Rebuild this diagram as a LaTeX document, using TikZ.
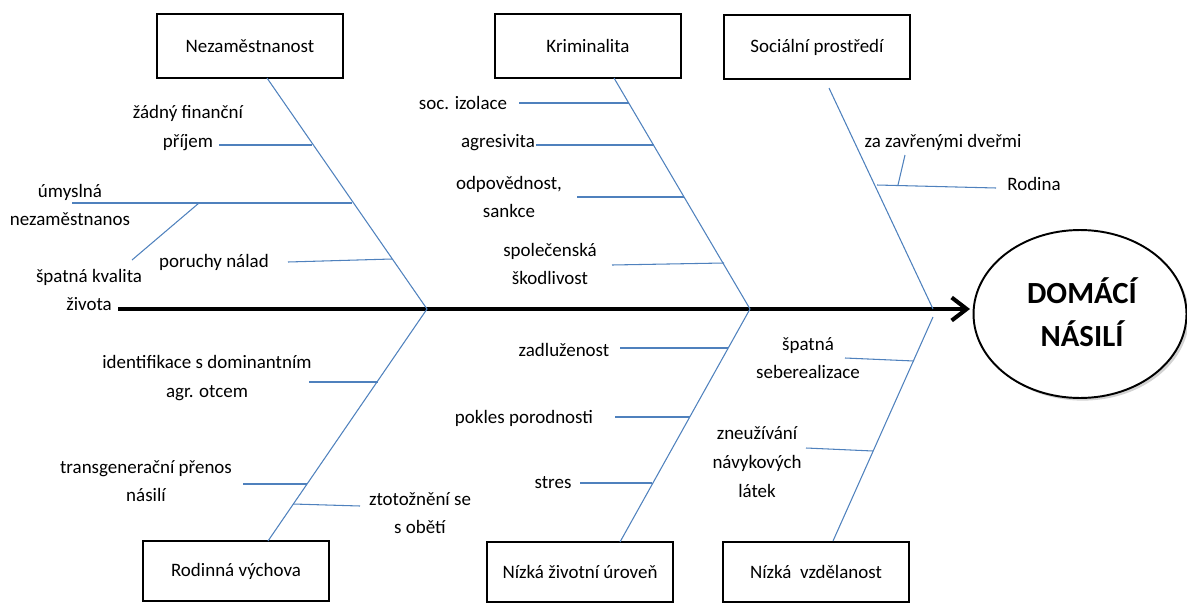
\documentclass[tikz,border=0pt]{standalone}
\usepackage{fontspec}
\setmainfont{Carlito}
\usetikzlibrary{arrows.meta,shapes.geometric,shadows}

\definecolor{bonecol}{RGB}{79,129,189}

\tikzset{%
   cause box/.style={
    draw=black,
    line width=1.3pt,
    fill=white,
    minimum width=3.72cm,
    minimum height=1.28cm,
    font=\fontsize{10.8}{13}\selectfont
  },
   factor/.style={
    align=center,
    inner sep=0pt,
    font=\fontsize{10.8}{16.4}\selectfont
  },
   bone/.style={draw=bonecol, line width=0.6pt},
   spine/.style={line width=2.3pt, -{Straight Barb[length=0.3cm,width=0.46cm]}},
}

\begin{document}
\begin{tikzpicture}[x=0.02cm, y=-0.02cm]
\useasboundingbox (0,0) rectangle (1187,602);
%=========================================================================================================
% Effect and spine
%=========================================================================================================

%Ellipse with the effect
\node [ellipse, draw, line width=1.1pt, fill=white, minimum width=4.26cm, minimum height=3.36cm,
       drop shadow={shadow xshift=1.5pt, shadow yshift=-1.5pt, opacity=0.35}] (effect) at (1080,314) {};
\node [align=center, font=\bfseries\fontsize{17.5}{24.4}\selectfont] (effect-text) at (1082,312) {DOMÁCÍ\\NÁSILÍ};

%Spine with the arrow going into the ellipse
\coordinate (tail) at (118,309);
\coordinate (head) at (970,309);
\draw [spine] (tail) -- (head);

%Joints of the bones on the spine
\coordinate (joint-1) at (427,309);
\coordinate (joint-2) at (750,309);
\coordinate (joint-3) at (933,309);

%=========================================================================================================
% Cause boxes
%=========================================================================================================

%Upper boxes
\foreach \n/\x/\y/\l in {nez/250/46/Nezaměstnanost, krim/588/46/Kriminalita, soc/817/47/Sociální prostředí}
  \node [cause box] (\n) at (\x,\y) {\l};

%Lower boxes
\foreach \n/\x/\y/\l in {rod/236/571/Rodinná výchova, niz/580/572/Nízká životní úroveň, vzd/816/572/Nízká~~vzdělanost}
  \node [cause box, minimum height=1.2cm] (\n) at (\x,\y) {\l};

%=========================================================================================================
% Draw bones
%=========================================================================================================
\coordinate (nez-b) at (267,78);
\coordinate (krim-b) at (614,78);
\coordinate (soc-b) at (829,88);
\coordinate (rod-b) at (268,541);
\coordinate (niz-b) at (620,542);
\coordinate (vzd-b) at (833,541);

\draw [bone] (nez-b) -- (joint-1) -- (rod-b);
\draw [bone] (krim-b) -- (joint-2) -- (niz-b);
\draw [bone] (soc-b) -- (joint-3);
\draw [bone] (joint-3) ++(0,8) coordinate (joint-3b) -- (vzd-b);

%=========================================================================================================
% Factors
%=========================================================================================================

%Nezaměstnanost
\node [factor] (f-1) at (188,128) {žádný finanční\\příjem};
\node [factor] (f-2) at (70,205) {úmyslná\\nezaměstnanos};
\node [factor] (f-3) at (89,290) {špatná kvalita\\života};
\node [factor] (f-4) at (214,262) {poruchy nálad};

%Kriminalita
\node [factor] (f-5) at (463,103) {soc. izolace};
\node [factor] (f-6) at (498,143) {agresivita};
\node [factor] (f-7) at (509,197) {odpovědnost,\\sankce};
\node [factor] (f-8) at (550,264) {společenská\\škodlivost};

%Sociální prostředí
\node [factor] (f-9) at (943,142) {za zavřenými dveřmi};
\node [factor] (f-10) at (1034,184) {Rodina};

%Rodinná výchova
\node [factor] (f-11) at (207,378) {identifikace s dominantním\\agr. otcem};
\node [factor] (f-12) at (146,481) {transgenerační přenos\\násilí};
\node [factor] (f-13) at (420,513) {ztotožnění se\\s obětí};

%Nízká životní úroveň
\node [factor] (f-14) at (564,350) {zadluženost};
\node [factor] (f-15) at (524,418) {pokles porodnosti};
\node [factor] (f-16) at (553,483) {stres};

%Nízká vzdělanost
\node [factor] (f-17) at (808,358) {špatná\\seberealizace};
\node [factor] (f-18) at (757,462) {zneužívání\\návykových\\látek};

%=========================================================================================================
% Draw twigs
%=========================================================================================================
\coordinate (t1-a) at (219,145);  \coordinate (t1-b) at (312,145);
\coordinate (t2-a) at (72,203);   \coordinate (t2-b) at (352,203);
\coordinate (t3-a) at (132,260);  \coordinate (t3-b) at (199,203);
\coordinate (t4-a) at (288,262);  \coordinate (t4-b) at (392,259);
\coordinate (t5-a) at (519,103);  \coordinate (t5-b) at (629,103);
\coordinate (t6-a) at (536,145);  \coordinate (t6-b) at (654,145);
\coordinate (t7-a) at (577,197);  \coordinate (t7-b) at (684,197);
\coordinate (t8-a) at (612,265);  \coordinate (t8-b) at (724,263);
\coordinate (t9-a) at (877,185);  \coordinate (t9-b) at (996,188);
\coordinate (t10-a) at (898,185); \coordinate (t10-b) at (905,155);
\coordinate (t11-a) at (309,382); \coordinate (t11-b) at (378,382);
\coordinate (t12-a) at (243,484); \coordinate (t12-b) at (307,484);
\coordinate (t13-a) at (293,504); \coordinate (t13-b) at (360,506);
\coordinate (t14-a) at (620,348); \coordinate (t14-b) at (728,348);
\coordinate (t15-a) at (615,417); \coordinate (t15-b) at (690,417);
\coordinate (t16-a) at (580,483); \coordinate (t16-b) at (652,483);
\coordinate (t17-a) at (845,358); \coordinate (t17-b) at (914,361);
\coordinate (t18-a) at (806,448); \coordinate (t18-b) at (873,451);

\foreach \i in {1,...,18}
  \draw [bone] (t\i-a) -- (t\i-b);

\end{tikzpicture}
\end{document}
